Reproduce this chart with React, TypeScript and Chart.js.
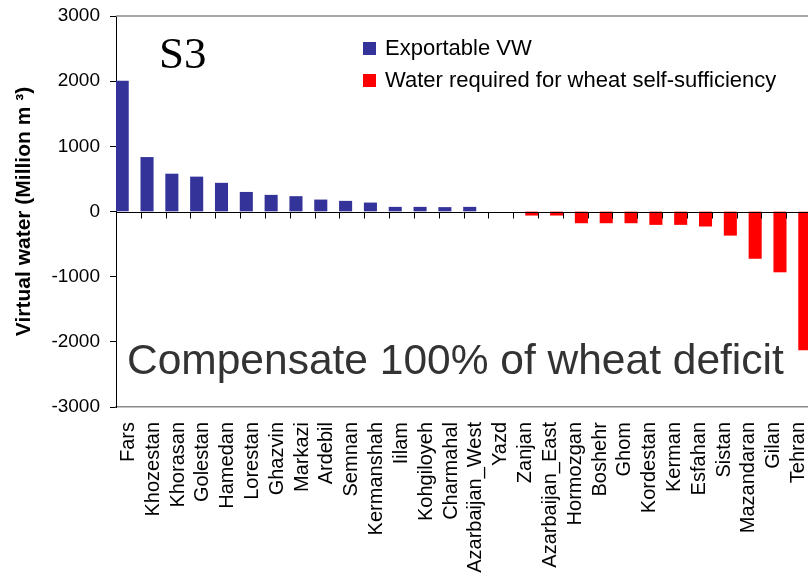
import React, { useEffect, useRef } from "react";
import { Chart, registerables } from "chart.js";

Chart.register(...registerables);

const categories = [
  "Fars", "Khozestan", "Khorasan", "Golestan", "Hamedan", "Lorestan", "Ghazvin",
  "Markazi", "Ardebil", "Semnan", "Kermanshah", "Iilam", "Kohgiloyeh", "Charmahal",
  "Azarbaijan_West", "Yazd", "Zanjan", "Azarbaijan_East", "Hormozgan", "Boshehr",
  "Ghom", "Kordestan", "Kerman", "Esfahan", "Sistan", "Mazandaran", "Gilan", "Tehran",
];

// Yazd shows no bar (value ~0)
const exportableVW = [
  2000, 830, 575, 530, 435, 295, 250, 230, 178, 158, 132, 66, 66, 62, 66, null,
  null, null, null, null, null, null, null, null, null, null, null, null,
];

const waterRequired = [
  null, null, null, null, null, null, null, null, null, null, null, null, null, null, null, null,
  -57, -57, -175, -175, -175, -200, -200, -225, -365, -720, -928, -2124,
];

const yTicks = [-3000, -2000, -1000, 0, 1000, 2000, 3000];

const seriesNames = ["Exportable VW", "Water required for wheat self-sufficiency"];
const seriesColors = ["#333399", "#FF0000"];

const FONT = "'Liberation Sans', Arial, sans-serif";

const overlayPlugin = {
  id: "overlay",
  afterDatasetsDraw(chart: any) {
    const { ctx, chartArea, scales } = chart;
    const xs = scales.x;
    const ys = scales.y;
    ctx.save();
    // top border
    ctx.strokeStyle = "#8a8a8a";
    ctx.lineWidth = 1.5;
    ctx.beginPath();
    ctx.moveTo(chartArea.left, chartArea.top);
    ctx.lineTo(chartArea.right, chartArea.top);
    ctx.stroke();
    // zero line with category tick marks
    const y0 = Math.round(ys.getPixelForValue(0)) + 0.5;
    ctx.strokeStyle = "#000";
    ctx.lineWidth = 1;
    ctx.beginPath();
    ctx.moveTo(chartArea.left, y0);
    ctx.lineTo(chartArea.right, y0);
    const half = (xs.getPixelForValue(1) - xs.getPixelForValue(0)) / 2;
    for (let i = 1; i <= categories.length; i++) {
      const xb = Math.round(xs.getPixelForValue(i - 1) + half) + 0.5;
      ctx.moveTo(xb, y0);
      ctx.lineTo(xb, y0 + 6);
    }
    ctx.stroke();
    ctx.restore();
  },
  afterDraw(chart: any) {
    const { ctx } = chart;
    ctx.save();
    // S3 label
    ctx.fillStyle = "#000";
    ctx.textBaseline = "alphabetic";
    ctx.textAlign = "left";
    ctx.font = "45px 'Liberation Serif', 'Times New Roman', serif";
    ctx.fillText("S3", 159, 68);
    // legend
    ctx.font = `22px ${FONT}`;
    const rows = [55, 87];
    seriesNames.forEach((name, i) => {
      ctx.fillStyle = seriesColors[i];
      ctx.fillRect(363, rows[i] - 13, 13, 13);
      ctx.fillStyle = "#000";
      ctx.fillText(name, 385, rows[i]);
    });
    // annotation
    ctx.font = `42.5px ${FONT}`;
    ctx.fillStyle = "#333333";
    ctx.fillText("Compensate 100% of wheat deficit", 127, 374);
    ctx.restore();
  },
};

export default function App() {
  const ref = useRef<HTMLCanvasElement>(null);
  useEffect(() => {
    if (!ref.current) return;
    const chart = new Chart(ref.current, {
      type: "bar",
      data: {
        labels: categories,
        datasets: [
          {
            label: seriesNames[0],
            data: exportableVW,
            backgroundColor: seriesColors[0],
            borderWidth: 0,
          },
          {
            label: seriesNames[1],
            data: waterRequired,
            backgroundColor: seriesColors[1],
            borderWidth: 0,
          },
        ],
      },
      options: {
        responsive: false,
        animation: false,
        events: [],
        layout: { padding: { top: 16, left: 0, right: 1, bottom: 0 } },
        datasets: { bar: { categoryPercentage: 1, barPercentage: 1 } },
        plugins: { legend: { display: false }, tooltip: { enabled: false } },
        scales: {
          x: {
            type: "category",
            grid: { display: false, drawTicks: false },
            border: { display: true, color: "#8a8a8a", width: 1.5 },
            ticks: {
              autoSkip: false,
              minRotation: 90,
              maxRotation: 90,
              padding: 15,
              color: "#000",
              font: { family: FONT, size: 20 },
            },
            afterFit: (s: any) => {
              s.height = 171;
              s.paddingLeft = 0;
              s.paddingRight = 0;
            },
          },
          y: {
            min: -3000,
            max: 3000,
            afterBuildTicks: (s: any) => {
              s.ticks = yTicks.map((v) => ({ value: v }));
            },
            grid: {
              drawOnChartArea: false,
              drawTicks: true,
              tickLength: 6,
              color: "#000",
            },
            border: { display: true, color: "#000", width: 1 },
            ticks: {
              padding: 10,
              color: "#000",
              font: { family: FONT, size: 19 },
              callback: (v: any) => String(v),
            },
            title: {
              display: true,
              text: "Virtual water (Million m ³)",
              color: "#000",
              font: { family: FONT, size: 21, weight: "bold" },
              padding: { top: 12, bottom: 0 },
            },
            afterFit: (s: any) => {
              s.width = 116;
              s.paddingTop = 0;
              s.paddingBottom = 0;
            },
          },
        },
      },
      plugins: [overlayPlugin],
    });
    return () => chart.destroy();
  }, []);
  return (
    <div
      style={{
        position: "fixed",
        left: 0,
        top: 0,
        width: 808,
        height: 578,
        overflow: "hidden",
        background: "#fff",
      }}
    >
      <canvas
        ref={ref}
        width={812}
        height={578}
        style={{ display: "block", width: 812, height: 578 }}
      />
    </div>
  );
}
